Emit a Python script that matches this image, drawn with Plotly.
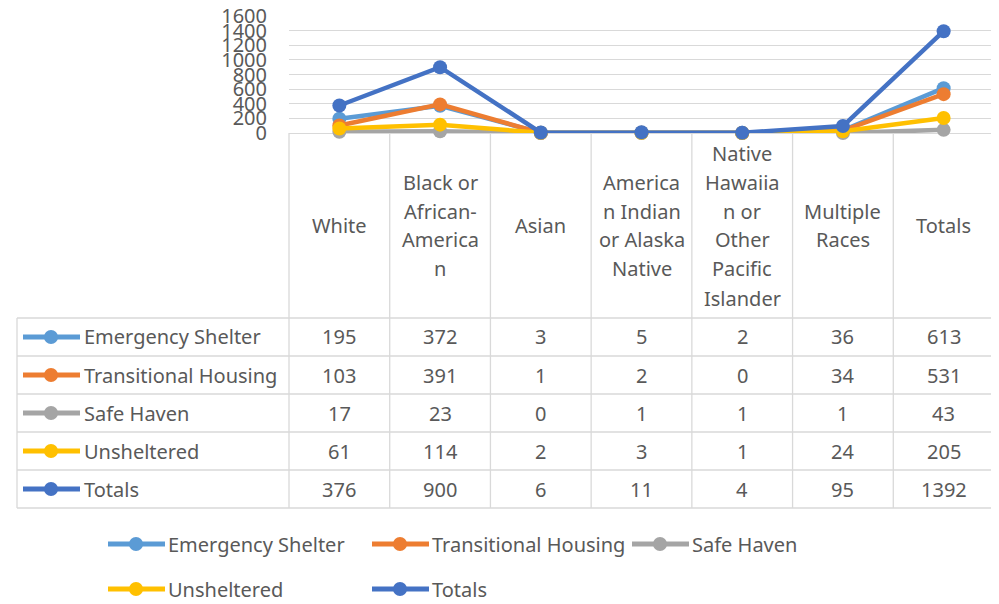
import plotly.graph_objects as go

categories = ["White", "Black or African-American", "Asian", "American Indian or Alaska Native",
              "Native Hawaiian or Other Pacific Islander", "Multiple Races", "Totals"]
# header text as Excel wraps it inside the data table cells
header_lines = [
    ["White"],
    ["Black or", "African-", "America", "n"],
    ["Asian"],
    ["America", "n Indian", "or Alaska", "Native"],
    ["Native", "Hawaiia", "n or", "Other", "Pacific", "Islander"],
    ["Multiple", "Races"],
    ["Totals"],
]
series_names = ["Emergency Shelter", "Transitional Housing", "Safe Haven", "Unsheltered", "Totals"]
emergency_shelter = [195, 372, 3, 5, 2, 36, 613]
transitional_housing = [103, 391, 1, 2, 0, 34, 531]
safe_haven = [17, 23, 0, 1, 1, 1, 43]
unsheltered = [61, 114, 2, 3, 1, 24, 205]
totals = [376, 900, 6, 11, 4, 95, 1392]
y_ticks = [0, 200, 400, 600, 800, 1000, 1200, 1400, 1600]

series_values = [emergency_shelter, transitional_housing, safe_haven, unsheltered, totals]
colors = ["#5B9BD5", "#ED7D31", "#A5A5A5", "#FFC000", "#4472C4"]

# the page body has an 8px margin, so every position below (read off the
# reference picture) is shifted back by it
OFF = 8
W, H = 999, 604
FONT = "Noto Sans"
TXT = "#595959"
GRID = "#D9D9D9"
FS = 20


def px(x):
    return (x - OFF) / W


def py(y):
    return 1 - (y - OFF) / H


# layout in reference pixels
plot_left, plot_right = 289, 994
plot_top, plot_bottom = 16, 133
table_left = 17
row_h = 38
rows_top = 318
n_rows = len(series_names)
table_bottom = rows_top + n_rows * row_h

fig = go.Figure()
for name, vals, col in zip(series_names, series_values, colors):
    fig.add_trace(go.Scatter(
        x=categories, y=vals, name=name, mode="lines+markers",
        line=dict(color=col, width=4.5),
        marker=dict(color=col, size=14),
        showlegend=False, cliponaxis=False,
    ))

shapes = []
annotations = []

# data table grid
col_w = (plot_right - plot_left) / len(categories)
col_edges = [plot_left + i * col_w for i in range(len(categories) + 1)]
for xe in col_edges:
    shapes.append(dict(type="line", xref="paper", yref="paper", layer="below",
                       x0=px(xe), x1=px(xe), y0=py(plot_bottom), y1=py(table_bottom),
                       line=dict(color=GRID, width=1.3)))
shapes.append(dict(type="line", xref="paper", yref="paper",
                   x0=px(table_left), x1=px(table_left), y0=py(rows_top), y1=py(table_bottom),
                   line=dict(color=GRID, width=1.3)))
for r in range(n_rows + 1):
    yy = rows_top + r * row_h
    shapes.append(dict(type="line", xref="paper", yref="paper",
                       x0=px(table_left), x1=px(plot_right), y0=py(yy), y1=py(yy),
                       line=dict(color=GRID, width=1.3)))

# header cells
line_gap = 29
header_mid = (plot_bottom + rows_top) / 2
for cat, lines in zip(categories, header_lines):
    n = len(lines)
    for k, t in enumerate(lines):
        yy = header_mid + (k - (n - 1) / 2) * line_gap
        annotations.append(dict(x=cat, xref="x", y=py(yy), yref="paper", text=t,
                                showarrow=False, font=dict(family=FONT, size=FS, color=TXT),
                                xanchor="center", yanchor="middle"))

# rows: legend key + values
for r, (name, vals, col) in enumerate(zip(series_names, series_values, colors)):
    yc = rows_top + (r + 0.5) * row_h
    shapes.append(dict(type="line", xref="paper", yref="paper",
                       x0=px(23), x1=px(80), y0=py(yc), y1=py(yc),
                       line=dict(color=col, width=5)))
    shapes.append(dict(type="circle", xref="paper", yref="paper",
                       x0=px(44), x1=px(58), y0=py(yc + 7), y1=py(yc - 7),
                       fillcolor=col, line=dict(color=col, width=0)))
    annotations.append(dict(x=px(82), xref="paper", y=py(yc), yref="paper", text=name,
                            showarrow=False, font=dict(family=FONT, size=FS, color=TXT),
                            xanchor="left", yanchor="middle"))
    for cat, v in zip(categories, vals):
        annotations.append(dict(x=cat, xref="x", y=py(yc), yref="paper", text=str(v),
                                showarrow=False, font=dict(family=FONT, size=FS, color=TXT),
                                xanchor="center", yanchor="middle"))

# bottom legend
leg_pos = [(108, 544), (372, 544), (632, 544), (108, 589), (372, 589)]
for (lx, ly), name, col in zip(leg_pos, series_names, colors):
    shapes.append(dict(type="line", xref="paper", yref="paper",
                       x0=px(lx), x1=px(lx + 57), y0=py(ly), y1=py(ly),
                       line=dict(color=col, width=5)))
    shapes.append(dict(type="circle", xref="paper", yref="paper",
                       x0=px(lx + 21), x1=px(lx + 35), y0=py(ly + 7), y1=py(ly - 7),
                       fillcolor=col, line=dict(color=col, width=0)))
    annotations.append(dict(x=px(lx + 58), xref="paper", y=py(ly), yref="paper", text=name,
                            showarrow=False, font=dict(family=FONT, size=FS, color=TXT),
                            xanchor="left", yanchor="middle"))

fig.update_layout(
    width=W, height=H,
    margin=dict(l=0, r=0, t=0, b=0),
    paper_bgcolor="white", plot_bgcolor="white",
    font=dict(family=FONT, color=TXT),
    xaxis=dict(domain=[px(plot_left), px(plot_right)], type="category",
               categoryorder="array", categoryarray=categories,
               range=[-0.5, len(categories) - 0.5], automargin=False,
               showticklabels=False, showgrid=False, zeroline=False, ticks=""),
    yaxis=dict(domain=[py(plot_bottom), py(plot_top)], range=[0, 1600],
               tickmode="array", tickvals=y_ticks, automargin=False,
               ticklabeloverflow="allow",
               tickfont=dict(family=FONT, size=20, color=TXT),
               showgrid=True, gridcolor=GRID, gridwidth=1.3,
               zeroline=True, zerolinecolor=GRID, zerolinewidth=1.3,
               ticklabelstandoff=21, showline=False),
    shapes=shapes,
    annotations=annotations,
)

fig.write_html("out.html")
